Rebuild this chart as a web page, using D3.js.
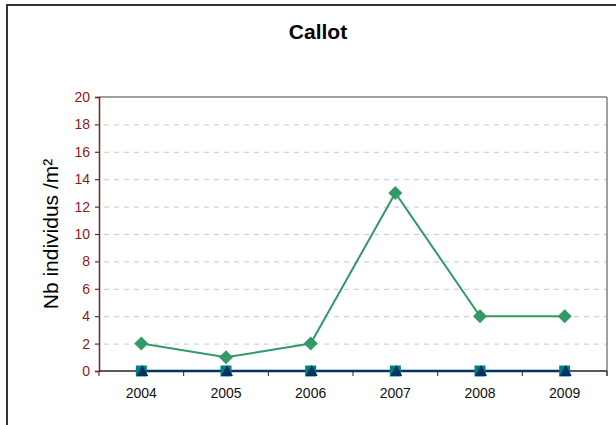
<!DOCTYPE html>
<html>
<head>
<meta charset="utf-8">
<script src="https://cdn.jsdelivr.net/npm/d3@7"></script>
<style>
  html, body { margin: 0; padding: 0; background: #fff; }
  svg { display: block; font-family: "Liberation Sans", Arial, sans-serif; }
</style>
</head>
<body>
<script>
const years = ["2004", "2005", "2006", "2007", "2008", "2009"];
const seriesGreen = [2, 1, 2, 13, 4, 4];
const seriesTeal = [0, 0, 0, 0, 0, 0];
const seriesNavy = [0, 0, 0, 0, 0, 0];
const yTicks = [0, 2, 4, 6, 8, 10, 12, 14, 16, 18, 20];
const title = "Callot";
const yLabel = "Nb individus /m²";

const W = 616, H = 425;
const svg = d3.select("body").append("svg").attr("width", W).attr("height", H);

// outer chart border (extends beyond right / bottom edges)
svg.append("rect").attr("x", 7).attr("y", 5).attr("width", W + 20).attr("height", H + 20)
  .attr("fill", "#fff").attr("stroke", "#333").attr("stroke-width", 2);

const L = 99, R = 607, T = 97, B = 371;
const x = d3.scaleBand().domain(years).range([L, R]);
const y = d3.scaleLinear().domain([0, 20]).range([B, T]);

// grid lines
svg.append("g").selectAll("line").data(yTicks.filter(d => d > 0 && d < 20)).join("line")
  .attr("x1", L).attr("x2", R).attr("y1", d => y(d) + 0.5).attr("y2", d => y(d) + 0.5)
  .attr("stroke", "#c8c8c8").attr("stroke-width", 1).attr("stroke-dasharray", "5,5")
  .attr("stroke-dashoffset", -5);

// top and right plot border
svg.append("line").attr("x1", L).attr("x2", R).attr("y1", T).attr("y2", T)
  .attr("stroke", "#808080").attr("stroke-width", 1.5);
svg.append("line").attr("x1", R).attr("x2", R).attr("y1", T).attr("y2", B + 5)
  .attr("stroke", "#808080").attr("stroke-width", 1.5);

// x axis
const xAxisG = svg.append("g").attr("transform", `translate(0,${B})`);
xAxisG.append("line").attr("x1", L).attr("x2", R).attr("y1", 0).attr("y2", 0)
  .attr("stroke", "#222").attr("stroke-width", 1.5);
xAxisG.selectAll("line.tk").data(years.concat(["end"])).join("line").attr("class", "tk")
  .attr("x1", (d, i) => L + i * x.step()).attr("x2", (d, i) => L + i * x.step())
  .attr("y1", 0).attr("y2", 5).attr("stroke", "#222").attr("stroke-width", 1);
xAxisG.selectAll("text").data(years).join("text")
  .attr("x", d => x(d) + x.bandwidth() / 2).attr("y", 26.5)
  .attr("text-anchor", "middle").attr("font-size", 14).attr("fill", "#111")
  .text(d => d);

// y axis
const yAxis = d3.axisLeft(y).tickValues(yTicks).tickSize(4).tickPadding(5);
const yAxisG = svg.append("g").attr("transform", `translate(${L},0)`).call(yAxis);
yAxisG.select(".domain").attr("stroke", "#7f1f1f").attr("stroke-width", 1.5);
yAxisG.selectAll(".tick line").attr("stroke", "#7f1f1f").attr("stroke-width", 1.2);
yAxisG.selectAll(".tick text").attr("fill", "#8b1a1a").attr("font-size", 14)
  .attr("font-family", "'Liberation Sans', Arial, sans-serif");

// series lines
const line = d3.line().x((d, i) => x(years[i]) + x.bandwidth() / 2).y(d => y(d));
svg.append("path").datum(seriesTeal).attr("d", line).attr("fill", "none")
  .attr("stroke", "#008080").attr("stroke-width", 2);
svg.append("path").datum(seriesNavy).attr("d", line).attr("fill", "none")
  .attr("stroke", "#003366").attr("stroke-width", 2.5);
svg.append("path").datum(seriesGreen).attr("d", line).attr("fill", "none")
  .attr("stroke", "#339966").attr("stroke-width", 2);

// markers
svg.append("g").selectAll("rect").data(seriesTeal).join("rect")
  .attr("x", (d, i) => x(years[i]) + x.bandwidth() / 2 - 5.5).attr("y", d => y(d) - 5.5)
  .attr("width", 11).attr("height", 11).attr("fill", "#008080");
svg.append("g").selectAll("path").data(seriesNavy).join("path")
  .attr("transform", (d, i) => `translate(${x(years[i]) + x.bandwidth() / 2 + 1},${y(d)})`)
  .attr("d", "M0,-6 L6,5 L-6,5 Z").attr("fill", "#003366");
svg.append("g").selectAll("path").data(seriesGreen).join("path")
  .attr("transform", (d, i) => `translate(${x(years[i]) + x.bandwidth() / 2},${y(d)})`)
  .attr("d", "M0,-7 L7,0 L0,7 L-7,0 Z").attr("fill", "#339966");

// title
svg.append("text").attr("x", 318).attr("y", 39).attr("text-anchor", "middle")
  .attr("font-size", 21).attr("font-weight", "bold").attr("fill", "#000").text(title);

// y label
svg.append("text").attr("transform", `translate(58,${(T + B) / 2}) rotate(-90)`)
  .attr("text-anchor", "middle").attr("font-size", 21).attr("fill", "#000").text(yLabel);
</script>
</body>
</html>
